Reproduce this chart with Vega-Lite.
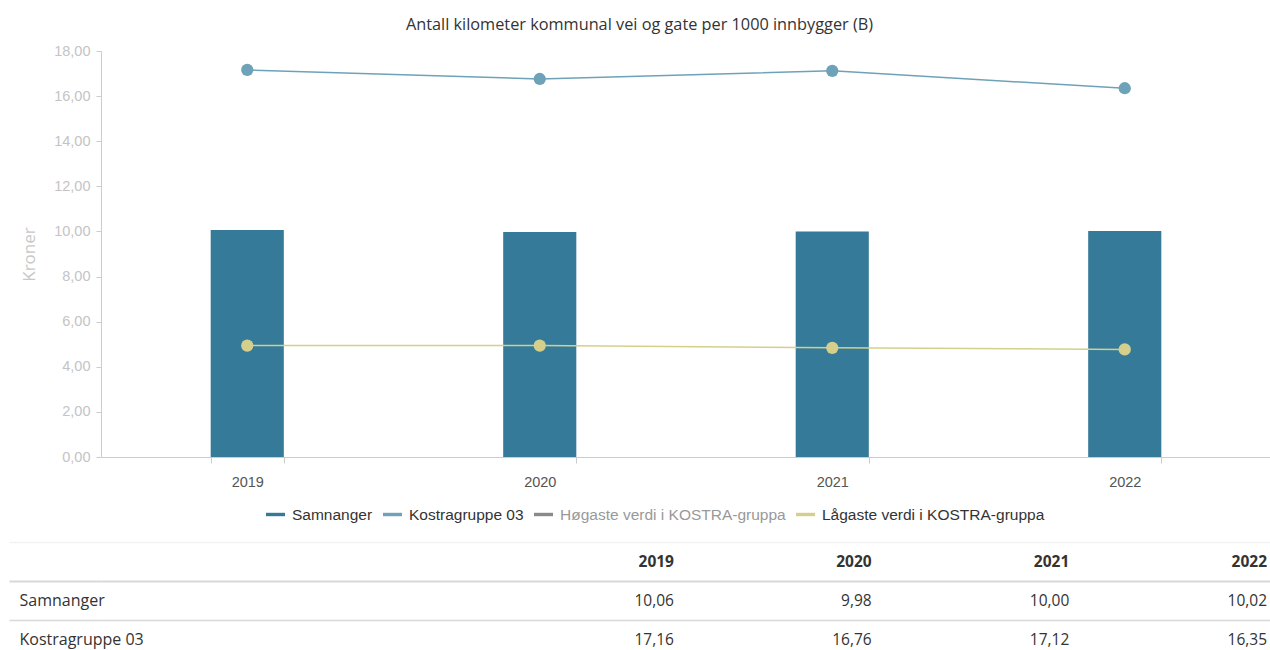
{
  "$schema": "https://vega.github.io/schema/vega-lite/v6.json",
  "padding": {"left": 8, "top": 16, "right": 0, "bottom": 0},
  "background": "white",
  "title": {"text": "Antall kilometer kommunal vei og gate per 1000 innbygger (B)", "font": "Open Sans", "fontSize": 16.3, "fontWeight": "normal", "color": "#333", "anchor": "middle", "offset": 10},
  "datasets": {
    "d": [
      {"year": "2019", "series": "Samnanger", "value": 10.06},
      {"year": "2020", "series": "Samnanger", "value": 9.98},
      {"year": "2021", "series": "Samnanger", "value": 10.00},
      {"year": "2022", "series": "Samnanger", "value": 10.02},
      {"year": "2019", "series": "Kostragruppe 03", "value": 17.16},
      {"year": "2020", "series": "Kostragruppe 03", "value": 16.76},
      {"year": "2021", "series": "Kostragruppe 03", "value": 17.12},
      {"year": "2022", "series": "Kostragruppe 03", "value": 16.35},
      {"year": "2019", "series": "Lågaste verdi i KOSTRA-gruppa", "value": 4.94},
      {"year": "2020", "series": "Lågaste verdi i KOSTRA-gruppa", "value": 4.94},
      {"year": "2021", "series": "Lågaste verdi i KOSTRA-gruppa", "value": 4.84},
      {"year": "2022", "series": "Lågaste verdi i KOSTRA-gruppa", "value": 4.77}
    ]
  },
  "spacing": 85,
  "bounds": "flush",
  "resolve": {"scale": {"color": "independent", "x": "independent", "y": "independent"}, "legend": {"color": "independent"}},
  "vconcat": [
    {
      "width": 1170,
      "height": 406,
      "data": {"name": "d"},
      "encoding": {
        "x": {"field": "year", "type": "ordinal", "scale": {"paddingInner": 0.75, "paddingOuter": 0.375},
          "axis": {"title": null, "labelAngle": 0, "tickBand": "extent", "domainColor": "#ccc", "tickColor": "#ccc", "tickSize": 6, "labelColor": "#555", "labelFont": "Liberation Sans", "labelFontSize": 14.5, "labelPadding": 12}}
      },
      "layer": [
        {
          "transform": [{"filter": "datum.series == 'Samnanger'"}],
          "mark": {"type": "bar"},
          "encoding": {
            "y": {"field": "value", "type": "quantitative", "scale": {"domain": [0, 18]},
              "axis": {"values": [0, 2, 4, 6, 8, 10, 12, 14, 16, 18], "format": ".2f", "labelFont": "Liberation Sans", "labelFontSize": 14.5, "labelColor": "#c4c4c4", "domainColor": "#ccc", "tickColor": "#ccc", "tickSize": 5, "labelPadding": 6, "grid": false, "title": "Kroner", "titleColor": "#c8c8c8", "titleFont": "Open Sans", "titleFontSize": 17, "titleFontWeight": "normal", "titlePadding": 15}},
            "color": {"field": "series", "type": "nominal",
              "scale": {"domain": ["Samnanger", "Kostragruppe 03", "Høgaste verdi i KOSTRA-gruppa", "Lågaste verdi i KOSTRA-gruppa"], "range": ["#357a99", "#6ea2b8", "#8a8a8a", "#d4d08b"]},
              "legend": {"orient": "none", "legendX": 165, "legendY": 454, "direction": "horizontal", "title": null, "symbolType": "M-1,-0.18H1V0.18H-1Z", "symbolSize": 361, "symbolStrokeWidth": 0, "labelFont": "Liberation Sans", "labelFontSize": 15.5, "labelLimit": 0, "labelColor": {"expr": "datum.label === 'Høgaste verdi i KOSTRA-gruppa' ? '#999' : '#333'"}, "labelOffset": 7, "columnPadding": 10}}
          }
        },
        {
          "transform": [{"filter": "datum.series != 'Samnanger'"}],
          "mark": {"type": "line", "strokeWidth": 1.5, "point": {"filled": true, "size": 150, "opacity": 1}},
          "encoding": {
            "y": {"field": "value", "type": "quantitative"},
            "color": {"field": "series", "type": "nominal", "legend": null}
          }
        }
      ]
    },
    {
      "width": 1170,
      "height": 117,
      "data": {"name": "d"},
      "transform": [{"filter": "datum.series == 'Samnanger' || datum.series == 'Kostragruppe 03'"}],
      "layer": [
        {
          "mark": {"type": "text", "align": "right", "baseline": "middle", "font": "Open Sans", "fontSize": 15.5, "color": "#333", "dx": -4},
          "encoding": {
            "x": {"field": "year", "type": "ordinal", "bandPosition": 1, "scale": {"type": "band", "paddingInner": 0, "paddingOuter": 0.9594, "align": 1}, "axis": null},
            "y": {"field": "series", "type": "nominal", "scale": {"type": "band", "domain": ["header", "Samnanger", "Kostragruppe 03"], "paddingInner": 0, "paddingOuter": 0},
              "axis": {"title": null, "domain": false, "ticks": true, "tickSize": 92,
                "tickWidth": {"condition": {"test": "datum.value == 'header'", "value": 2}, "value": 1.5},
                "tickColor": {"condition": {"test": "indexof(['header','Samnanger','Kostragruppe 03'], datum.value) >= 0", "value": "#d8d8d8"}, "value": "#f3f3f3"},
                "labelAlign": "left", "labelPadding": -10, "labelFont": "Open Sans", "labelFontSize": 16, "labelColor": "#333", "labelExpr": "datum.value == 'header' ? '' : datum.value", "grid": true, "tickBand": "extent",
                "gridColor": {"condition": {"test": "indexof(['header','Samnanger','Kostragruppe 03'], datum.value) >= 0", "value": "#d8d8d8"}, "value": "#f3f3f3"},
                "gridWidth": {"condition": {"test": "datum.value == 'header'", "value": 2}, "value": 1.5}}},
            "text": {"field": "value", "type": "quantitative", "format": ".2f"}
          }
        },
        {
          "transform": [{"filter": "datum.series == 'Samnanger'"}],
          "mark": {"type": "text", "align": "right", "baseline": "middle", "font": "Open Sans", "fontSize": 15.5, "fontWeight": "bold", "color": "#333", "dx": -4},
          "encoding": {
            "x": {"field": "year", "type": "ordinal", "bandPosition": 1},
            "y": {"datum": "header"},
            "text": {"field": "year", "type": "nominal"}
          }
        }
      ]
    }
  ],
  "config": {
    "view": {"stroke": null},
    "font": "Open Sans",
    "locale": {"number": {"decimal": ",", "thousands": " ", "grouping": [3], "currency": ["", " kr"]}}
  }
}
